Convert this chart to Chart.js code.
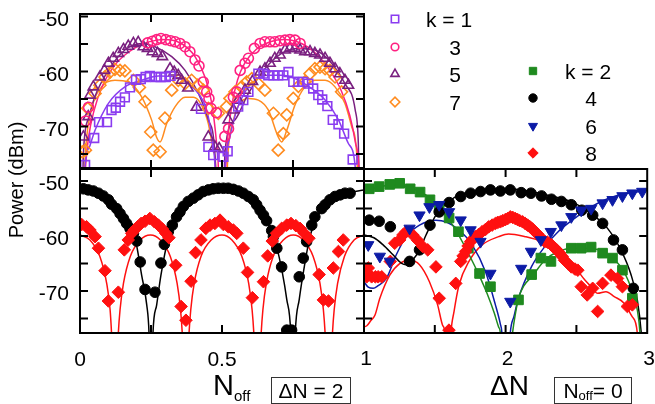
<!DOCTYPE html>
<html>
<head>
<meta charset="utf-8">
<title>Power vs Noff and ΔN</title>
<script src="https://cdn.jsdelivr.net/npm/chart.js"></script>
<style>
  body { margin: 0; background: #fff; }
  #fig { position: relative; width: 655px; height: 404px; overflow: hidden; background: #fff;
         font-family: "Liberation Sans", Arial, Helvetica, sans-serif; color: #000; }
  #fig canvas { position: absolute; left: 0; top: 0; }
  .lbl { position: absolute; line-height: 1; white-space: nowrap; }
  .box { position: absolute; border: 1px solid #333; box-sizing: border-box; display: flex;
         align-items: center; justify-content: center; line-height: 1; white-space: nowrap; }
  .sub { position: relative; }
</style>
</head>
<body>
<div id="fig">
  <canvas id="cTL" width="655" height="404"></canvas>
  <canvas id="cBL" width="655" height="404"></canvas>
  <canvas id="cBR" width="655" height="404"></canvas>
</div>
<script>
// ---- tick labels
const yTickLabels = [-70, -60, -50];
const yMinorTicks = [-75, -70, -65, -60, -55, -50];
const xTicksNoff = [0.25, 0.5, 0.75];
const xTicksDN = [1.5, 2, 2.5];
const xTickLabelsL = [0, 0.5];
const xTickLabelsR = [1, 2, 3];
const legendLabelsA = ['k = 1', '3', '5', '7'];
const legendLabelsB = ['k = 2', '4', '6', '8'];

// ---- top left panel (odd k, vs Noff), measured points
const tlK1X = [0.018,0.05,0.067,0.095,0.111,0.126,0.141,0.158,0.176,0.197,0.214,0.231,0.246,0.266,0.284,0.302,0.319,0.426,0.452,0.469,0.505,0.52,0.557,0.575,0.593,0.628,0.646,0.663,0.681,0.698,0.716,0.734,0.751,0.769,0.786,0.804,0.821,0.839,0.853,0.871,0.89,0.91,0.93,0.96];
const tlK1Y = [-77.0,-72.1,-69.2,-69.2,-67.0,-66.6,-65.5,-64.7,-62.9,-61.5,-61.4,-61.0,-60.8,-61.0,-61.0,-61.0,-60.8,-66.8,-73.7,-75.2,-75.5,-74.5,-66.4,-65.2,-63.7,-60.4,-60.4,-60.7,-60.7,-60.7,-60.7,-60.1,-61.9,-61.9,-61.9,-62.2,-63.1,-64.3,-65.1,-66.3,-68.8,-69.6,-71.3,-76.0];
const tlK3X = [0.02,0.03,0.238,0.255,0.27,0.285,0.302,0.319,0.335,0.352,0.37,0.387,0.405,0.419,0.434,0.446,0.454,0.461,0.48,0.51,0.523,0.54,0.552,0.564,0.581,0.593,0.614,0.634,0.651,0.669,0.686,0.704,0.722,0.739,0.757,0.775];
const tlK3Y = [-69.0,-66.5,-54.8,-54.5,-54.2,-54.0,-54.2,-54.4,-54.6,-54.9,-55.5,-56.4,-57.9,-59.0,-61.9,-63.7,-64.9,-66.7,-67.5,-71.8,-70.4,-64.7,-63.7,-59.8,-58.5,-57.6,-55.8,-54.9,-54.6,-54.6,-54.6,-54.4,-54.3,-54.2,-54.3,-54.9];
const tlK5X = [0.012,0.029,0.035,0.047,0.07,0.086,0.1,0.117,0.135,0.153,0.17,0.188,0.205,0.223,0.238,0.255,0.273,0.29,0.317,0.332,0.346,0.358,0.38,0.41,0.452,0.475,0.49,0.522,0.54,0.557,0.581,0.607,0.634,0.651,0.669,0.686,0.704,0.722,0.739,0.757,0.775,0.792,0.81,0.827,0.845,0.863,0.88,0.898,0.915,0.933,0.945];
const tlK5Y = [-71.9,-68.2,-64.3,-62.8,-61.0,-59.8,-58.5,-57.6,-56.7,-56.0,-55.4,-54.9,-54.7,-55.5,-55.8,-56.4,-56.7,-57.3,-59.5,-60.1,-60.7,-61.6,-63.0,-66.5,-71.9,-73.7,-74.0,-68.8,-67.0,-65.2,-63.4,-61.8,-60.1,-59.5,-58.5,-57.6,-57.0,-56.1,-55.8,-55.8,-56.1,-56.4,-56.4,-56.7,-57.0,-57.6,-58.5,-59.5,-60.4,-61.6,-62.5];
const tlK7X = [0.008,0.019,0.027,0.053,0.07,0.088,0.106,0.123,0.141,0.158,0.188,0.209,0.229,0.249,0.258,0.282,0.299,0.323,0.346,0.37,0.393,0.415,0.434,0.452,0.487,0.516,0.528,0.546,0.569,0.587,0.605,0.628,0.651,0.681,0.698,0.716,0.728,0.751,0.769,0.792,0.81,0.827,0.845,0.863,0.88,0.898,0.921];
const tlK7Y = [-74.6,-74.3,-66.7,-64.0,-62.5,-61.0,-60.1,-59.6,-59.8,-59.9,-61.6,-62.9,-65.5,-71.0,-74.3,-74.6,-68.5,-63.4,-61.6,-62.2,-61.6,-62.5,-63.4,-66.7,-67.6,-66.4,-64.9,-63.7,-62.8,-61.9,-61.3,-62.2,-63.4,-67.6,-74.3,-71.3,-67.9,-64.9,-62.7,-61.9,-60.4,-59.5,-59.2,-59.5,-59.8,-61.0,-63.7];

// top left fits (null = break between lobes)
const tlK1LineX = [0.008,0.02,0.035,0.053,0.1,0.158,0.217,0.276,0.335,0.381,0.417,0.446,0.464,0.475,0.48,0.5,0.505,0.511,0.528,0.552,0.581,0.616,0.663,0.71,0.757,0.816,0.863,0.91,0.945,0.969,0.975];
const tlK1LineY = [-85,-76,-73.5,-70.7,-65.8,-62.8,-61.6,-60.8,-61.0,-62.2,-64.0,-67.0,-71.9,-77.0,-85,null,-85,-77.3,-71.9,-67.0,-63.7,-61.6,-60.7,-60.7,-61.3,-63.1,-65.2,-68.8,-73.1,-77.3,-85];
const tlK3LineX = [0.012,0.02,0.03,0.05,0.08,0.12,0.17,0.22,0.27,0.3,0.34,0.38,0.405,0.44,0.464,0.481,0.487,0.49,0.5,0.508,0.513,0.52,0.535,0.555,0.58,0.62,0.67,0.72,0.76,0.8,0.84,0.88,0.92,0.95,0.97,0.982,0.986];
const tlK3LineY = [-85,-77,-72,-67,-62.5,-59,-56.5,-55,-54.3,-54.2,-54.5,-55.8,-57.3,-61,-65.8,-73.1,-77.3,-85,null,-85,-77.6,-72,-66,-61.5,-58.5,-56,-54.6,-54.2,-54.5,-55.5,-57.2,-59.8,-63.5,-68,-73,-77.6,-85];
const tlK5LineX = [0.008,0.012,0.03,0.053,0.1,0.158,0.217,0.264,0.323,0.37,0.417,0.452,0.475,0.482,0.5,0.505,0.511,0.546,0.593,0.651,0.71,0.769,0.827,0.886,0.933,0.969,0.98,0.985];
const tlK5LineY = [-85,-74.9,-68.5,-64.5,-59.8,-56.1,-54.9,-55.5,-57.3,-59.8,-64.0,-68.8,-74.9,-85,null,-85,-74.3,-68.8,-64.0,-59.5,-56.7,-55.8,-56.1,-58.5,-62.2,-67.0,-73.0,-85];
const tlK7LineX = [0.01,0.02,0.04,0.076,0.123,0.17,0.217,0.252,0.27,0.282,0.305,0.335,0.37,0.399,0.428,0.452,0.469,0.478,0.482,0.5,0.515,0.52,0.54,0.56,0.593,0.628,0.663,0.698,0.71,0.728,0.757,0.792,0.827,0.863,0.898,0.933,0.957,0.975,0.98];
const tlK7LineY = [-85,-74,-67,-62.8,-61.6,-61.9,-64.6,-68.8,-72,-72.8,-69.5,-66.4,-64.7,-64.7,-66.1,-69.5,-74.3,-77.3,-85,null,-85,-76,-69,-66,-64.9,-65.2,-67.0,-71.9,-72.8,-70.7,-66.1,-62.8,-61.6,-61.6,-62.8,-65.8,-70.1,-75.5,-85];

// ---- bottom left panel (k = 4, 8 vs Noff)
const blK4X = [0.012,0.029,0.047,0.065,0.082,0.1,0.111,0.129,0.141,0.153,0.164,0.176,0.188,0.2,0.212,0.229,0.264,0.285,0.297,0.311,0.325,0.34,0.352,0.364,0.381,0.399,0.416,0.434,0.452,0.469,0.487,0.505,0.522,0.54,0.558,0.575,0.593,0.61,0.622,0.634,0.646,0.657,0.675,0.681,0.693,0.71,0.728,0.745,0.772,0.786,0.798,0.816,0.827,0.851,0.863,0.88,0.898,0.916,0.933,0.951];
const blK4Y = [-51.4,-51.6,-51.8,-52.2,-52.7,-53.4,-54.2,-55.0,-55.9,-56.8,-57.7,-58.6,-59.5,-60.9,-64.7,-69.7,-70.2,-64.9,-61.5,-59.2,-58.0,-56.5,-55.6,-54.6,-53.7,-53.1,-52.5,-51.9,-51.6,-51.4,-51.3,-51.3,-51.3,-51.5,-51.8,-52.2,-52.8,-53.4,-54.3,-55.3,-56.2,-57.2,-59.0,-60.1,-62.2,-65.6,-77.1,-77.1,-67.4,-64.0,-61.0,-58.0,-56.5,-55.0,-54.3,-53.4,-52.8,-52.5,-52.2,-52.2];
const blK8X = [0.006,0.023,0.035,0.053,0.065,0.088,0.1,0.135,0.156,0.17,0.182,0.191,0.203,0.215,0.229,0.246,0.262,0.276,0.29,0.302,0.313,0.337,0.356,0.373,0.391,0.407,0.426,0.443,0.458,0.475,0.493,0.505,0.522,0.54,0.552,0.575,0.59,0.607,0.646,0.661,0.677,0.692,0.71,0.728,0.743,0.76,0.775,0.79,0.806,0.842,0.857,0.875,0.892,0.91,0.927];
const blK8Y = [-57.9,-58.3,-58.9,-60.1,-62.2,-66.3,-71.8,-70.2,-62.5,-60.7,-59.5,-58.9,-58.3,-57.7,-57.3,-56.8,-57.4,-58.0,-58.7,-59.5,-60.3,-65.3,-72.8,-75.3,-68.2,-63.0,-60.7,-58.6,-58.0,-57.7,-57.1,-57.9,-58.3,-58.9,-59.5,-62.2,-66.6,-71.2,-68.3,-63.6,-60.9,-59.5,-58.6,-58.0,-57.7,-58.1,-58.6,-59.5,-60.4,-67.0,-71.6,-71.8,-65.8,-62.8,-60.7];
const blK4LineX = [0,0.05,0.1,0.15,0.194,0.217,0.235,0.243,0.25,0.257,0.27,0.285,0.311,0.335,0.381,0.452,0.5,0.55,0.62,0.665,0.69,0.712,0.728,0.742,0.75,0.758,0.772,0.79,0.81,0.835,0.88,0.95,1.0];
const blK4LineY = [-51.3,-51.7,-53.2,-56.5,-60.4,-67.1,-72.5,-77.6,-92,-77.6,-72.5,-67.1,-60.4,-57.4,-53.7,-51.6,-51.1,-51.5,-54.3,-58.0,-61.5,-66.5,-71.5,-77.6,-92,-77.6,-71.5,-65.5,-60.0,-56.5,-53.8,-52.1,-51.6];
const blK8LineX = [0,0.035,0.07,0.094,0.106,0.111,0.123,0.135,0.141,0.153,0.177,0.212,0.248,0.283,0.318,0.342,0.354,0.36,0.372,0.384,0.39,0.402,0.426,0.462,0.5,0.535,0.57,0.594,0.606,0.612,0.625,0.638,0.644,0.656,0.68,0.716,0.751,0.786,0.821,0.845,0.857,0.863,0.876,0.889,0.895,0.907,0.931,0.965,1.0];
const blK8LineY = [-59.8,-60.7,-63.7,-68.6,-73.4,-77.6,-92,-77.6,-73.4,-68.6,-63.7,-60.7,-59.8,-60.7,-63.7,-68.6,-73.4,-77.6,-92,-77.6,-73.4,-68.6,-63.7,-60.7,-59.8,-60.7,-63.7,-68.6,-73.4,-77.6,-92,-77.6,-73.4,-68.6,-63.7,-60.7,-59.8,-60.7,-63.7,-68.6,-73.4,-77.6,-92,-77.6,-73.4,-68.6,-63.7,-60.7,-59.8];

// ---- bottom right panel (even k vs ΔN)
const brK2X = [1.037,1.107,1.182,1.252,1.326,1.396,1.466,1.531,1.601,1.667,1.737,1.816,1.893,2.091,2.184,2.249,2.32,2.464,2.534,2.604,2.685,2.755,2.825,2.895];
const brK2Y = [-51.4,-51.0,-50.6,-50.4,-51.4,-52.0,-53.4,-54.7,-56.7,-59.2,-62.2,-66.8,-69.2,-71.6,-67.0,-64.0,-64.6,-62.2,-62.2,-62.0,-63.1,-64.0,-66.2,-71.3];
const brK4X = [1.037,1.107,1.186,1.322,1.392,1.466,1.531,1.601,1.683,1.753,1.823,1.893,1.963,2.033,2.11,2.179,2.254,2.324,2.394,2.464,2.538,2.615,2.685,2.762,2.825,2.902];
const brK4Y = [-57.1,-57.3,-58.3,-64.6,-62.5,-58.0,-55.6,-53.9,-52.8,-52.2,-51.9,-51.6,-51.8,-51.6,-52.1,-52.2,-52.7,-53.3,-53.7,-54.3,-55.3,-56.2,-57.7,-60.7,-62.5,-69.5];
const brK6X = [1.03,1.112,1.182,1.322,1.392,1.462,1.531,1.601,1.683,1.753,1.823,1.893,2.033,2.11,2.179,2.249,2.319,2.394,2.464,2.534,2.604,2.685,2.755,2.825,2.895,2.965];
const brK6Y = [-61.6,-63.7,-64.6,-58.6,-56.2,-54.7,-54.3,-55.6,-57.1,-58.9,-61.0,-66.8,-71.9,-65.9,-62.8,-60.7,-59.2,-58.0,-56.5,-55.3,-55.0,-54.0,-53.4,-52.7,-52.2,-51.9];
const brK8X = [1.019,1.03,1.054,1.08,1.1,1.125,1.186,1.217,1.252,1.275,1.298,1.345,1.38,1.415,1.45,1.508,1.531,1.6,1.648,1.683,1.7,1.718,1.735,1.753,1.77,1.788,1.81,1.834,1.858,1.881,1.905,1.928,1.945,1.963,1.98,1.998,2.015,2.033,2.05,2.068,2.085,2.1,2.12,2.138,2.155,2.172,2.19,2.207,2.225,2.242,2.26,2.277,2.295,2.312,2.33,2.347,2.365,2.382,2.4,2.417,2.44,2.464,2.49,2.51,2.534,2.576,2.615,2.65,2.685,2.744,2.79,2.825,2.86,2.895];
const brK8Y = [-67.4,-65.8,-67.4,-67.4,-67.4,-67.4,-64.6,-61.3,-60.7,-59.8,-59.2,-59.8,-60.8,-61.9,-62.5,-65.6,-71.3,-77.1,-68.6,-64.6,-63.6,-62.8,-61.8,-61.0,-60.5,-60.1,-59.7,-59.2,-58.8,-58.3,-58.0,-57.7,-57.5,-57.4,-57.2,-57.0,-56.8,-56.5,-56.6,-56.8,-57.0,-57.2,-57.4,-57.7,-58.0,-58.3,-58.7,-59.2,-59.6,-60.1,-60.6,-61.0,-61.1,-61.3,-61.8,-62.2,-62.6,-63.1,-63.7,-64.4,-65.0,-65.6,-66.0,-66.2,-69.2,-70.7,-69.5,-73.7,-68.6,-67.1,-67.7,-69.2,-72.8,-72.5];
const brK2LineX = [1.0,1.05,1.1,1.2,1.3,1.4,1.485,1.55,1.6,1.65,1.7,1.76,1.82,1.87,1.92,1.95,1.963,1.995,2.049,2.07,2.091,2.13,2.184,2.277,2.371,2.487,2.604,2.72,2.814,2.883,2.93,2.949,2.975];
const brK2LineY = [-52.2,-51.5,-51.1,-50.7,-51.0,-52.0,-53.4,-55.3,-57.0,-59.0,-61.3,-64.3,-67.5,-70.5,-74.0,-76.5,-77.6,-92,-77.6,-74.0,-71.3,-69.0,-67.4,-64.4,-62.8,-62.2,-62.2,-63.4,-65.6,-69.2,-73.4,-77.6,-92];
const brK4LineX = [1.0,1.07,1.135,1.205,1.263,1.298,1.345,1.392,1.438,1.508,1.601,1.671,1.788,1.904,2.021,2.138,2.254,2.371,2.487,2.604,2.72,2.814,2.883,2.93,2.958,2.99];
const brK4LineY = [-59.8,-60.3,-61.6,-63.4,-64.9,-65.2,-64.3,-62.5,-59.8,-56.2,-53.7,-52.5,-51.8,-51.4,-51.4,-51.7,-52.3,-53.0,-54.0,-55.9,-58.6,-62.5,-66.8,-71.6,-77.6,-92];
const brK6LineX = [1.0,1.03,1.065,1.1,1.158,1.228,1.298,1.392,1.508,1.578,1.671,1.764,1.858,1.928,1.963,1.974,2.0,2.033,2.06,2.091,2.184,2.277,2.371,2.487,2.604,2.72,2.837,2.977,3.0];
const brK6LineY = [-68.3,-69.3,-69.5,-69.0,-67.7,-63.4,-60.1,-58.0,-57.1,-57.4,-58.9,-61.6,-66.5,-72.5,-76.0,-77.6,-92,-77.6,-74.5,-71.3,-65.5,-61.9,-59.2,-56.8,-54.7,-53.2,-52.3,-51.8,-51.7];
const brK8LineX = [1.0,1.02,1.05,1.077,1.112,1.182,1.252,1.322,1.392,1.462,1.52,1.555,1.573,1.59,1.613,1.636,1.671,1.741,1.834,1.951,2.021,2.138,2.254,2.371,2.487,2.56,2.604,2.65,2.709,2.767,2.837,2.895,2.93,2.95];
const brK8LineY = [-76.5,-76.3,-75.3,-74.4,-71.3,-67.1,-65.0,-64.4,-65.2,-68.3,-72.5,-76.2,-78.0,-92,-78.0,-73.7,-68.9,-64.6,-61.6,-60.1,-59.6,-60.1,-61.0,-62.8,-65.6,-68.0,-69.2,-70.4,-70.1,-71.0,-72.2,-74.7,-77.6,-92];

// colours
const colK1 = '#8a3cf0', colK3 = '#ff2080', colK5 = '#7a2080', colK7 = '#ff8c20';
const colK2 = '#1f8a1f', colK4 = '#000000', colK6 = '#0c1ba6', colK8 = '#ff1010';

function pts(xs, ys) {
  return xs.map(function (x, i) { return { x: x, y: ys[i] }; });
}

function markers(xs, ys, color, style, r, filled, rot) {
  return {
    data: pts(xs, ys),
    showLine: false,
    pointStyle: style,
    pointRadius: r,
    pointRotation: rot || 0,
    pointBorderWidth: filled ? 1 : 1.6,
    pointBorderColor: color,
    pointBackgroundColor: filled ? color : 'rgba(0,0,0,0)'
  };
}

function fit(xs, ys, color) {
  return {
    data: pts(xs, ys),
    showLine: true,
    borderColor: color,
    borderWidth: 1.5,
    pointRadius: 0,
    cubicInterpolationMode: 'monotone',
    spanGaps: false,
    fill: false
  };
}

// border + inward ticks on all four sides
const framePlugin = {
  id: 'frame',
  afterDatasetsDraw(chart, args, opts) {
    const ctx = chart.ctx, a = chart.chartArea;
    const x = chart.scales.x, y = chart.scales.y;
    ctx.save();
    ctx.strokeStyle = '#000';
    ctx.lineWidth = 2;
    ctx.strokeRect(a.left, a.top, a.right - a.left, a.bottom - a.top);
    ctx.beginPath();
    opts.xTicks.forEach(function (v) {
      const px = x.getPixelForValue(v);
      ctx.moveTo(px, a.top); ctx.lineTo(px, a.top + 8);
      ctx.moveTo(px, a.bottom); ctx.lineTo(px, a.bottom - 8);
    });
    opts.yTicks.forEach(function (v) {
      const py = y.getPixelForValue(v);
      ctx.moveTo(a.left, py); ctx.lineTo(a.left + 8, py);
      ctx.moveTo(a.right, py); ctx.lineTo(a.right - 8, py);
    });
    ctx.stroke();
    ctx.restore();
  }
};

// legend symbols (text is html below)
const legendPlugin = {
  id: 'legendMarks',
  afterDraw(chart, args, opts) {
    const ctx = chart.ctx;
    opts.items.forEach(function (it) {
      ctx.save();
      ctx.strokeStyle = it.color;
      ctx.fillStyle = it.filled ? it.color : 'rgba(0,0,0,0)';
      ctx.lineWidth = it.filled ? 1 : 1.6;
      Chart.helpers.drawPoint(ctx, { pointStyle: it.style, radius: it.r, rotation: it.rot || 0, borderWidth: ctx.lineWidth }, it.x, it.y);
      ctx.restore();
    });
  }
};

function makePanel(id, pad, xr, yr, datasets, xTicks, extra) {
  const plugins = [framePlugin];
  const pluginOpts = {
    legend: { display: false },
    tooltip: { enabled: false },
    frame: { xTicks: xTicks, yTicks: yMinorTicks }
  };
  if (extra) { plugins.push(legendPlugin); pluginOpts.legendMarks = extra; }
  return new Chart(document.getElementById(id), {
    type: 'scatter',
    data: { datasets: datasets },
    options: {
      responsive: false,
      animation: false,
      devicePixelRatio: 1,
      events: [],
      layout: { padding: pad },
      plugins: pluginOpts,
      scales: {
        x: { type: 'linear', display: false, min: xr[0], max: xr[1] },
        y: { type: 'linear', display: false, min: yr[0], max: yr[1] }
      }
    },
    plugins: plugins
  });
}

const legendItems = [
  { x: 395, y: 19, style: 'rect', r: 5.2, color: colK1, filled: false },
  { x: 395, y: 47, style: 'circle', r: 3.8, color: colK3, filled: false },
  { x: 395, y: 74, style: 'triangle', r: 4.8, color: colK5, filled: false },
  { x: 395, y: 102, style: 'rectRot', r: 4.8, color: colK7, filled: false },
  { x: 533, y: 71, style: 'rect', r: 5.2, color: colK2, filled: true },
  { x: 533, y: 98, style: 'circle', r: 4.2, color: colK4, filled: true },
  { x: 533, y: 126, style: 'triangle', r: 5.2, color: colK6, filled: true, rot: 180 },
  { x: 533, y: 153, style: 'rectRot', r: 5.2, color: colK8, filled: true }
];

const chartTL = makePanel('cTL', { left: 80, top: 14, right: 291, bottom: 236 }, [0, 1], [-77.55, -49.55], [
  markers(tlK3X, tlK3Y, colK3, 'circle', 5, false),
  markers(tlK1X, tlK1Y, colK1, 'rect', 6.2, false),
  markers(tlK5X, tlK5Y, colK5, 'triangle', 6, false),
  markers(tlK7X, tlK7Y, colK7, 'rectRot', 6, false),
  fit(tlK1LineX, tlK1LineY, colK1),
  fit(tlK3LineX, tlK3LineY, colK3),
  fit(tlK5LineX, tlK5LineY, colK5),
  fit(tlK7LineX, tlK7LineY, colK7)
], xTicksNoff, { items: legendItems });

const chartBL = makePanel('cBL', { left: 80, top: 169, right: 291, bottom: 71 }, [0, 1], [-77.62, -47.8], [
  markers(blK8X, blK8Y, colK8, 'rectRot', 6.3, true),
  markers(blK4X, blK4Y, colK4, 'circle', 5.3, true),
  fit(blK4LineX, blK4LineY, colK4),
  fit(blK8LineX, blK8LineY, colK8)
], xTicksNoff);

const chartBR = makePanel('cBR', { left: 364, top: 169, right: 5, bottom: 71 }, [1, 3], [-77.62, -47.8], [
  markers(brK6X, brK6Y, colK6, 'triangle', 6.5, true, 180),
  markers(brK8X, brK8Y, colK8, 'rectRot', 6.3, true),
  markers(brK4X, brK4Y, colK4, 'circle', 5.3, true),
  markers(brK2X, brK2Y, colK2, 'rect', 6.8, true),
  fit(brK2LineX, brK2LineY, colK2),
  fit(brK4LineX, brK4LineY, colK4),
  fit(brK6LineX, brK6LineY, colK6),
  fit(brK8LineX, brK8LineY, colK8)
], xTicksDN);

// ---- text
const fig = document.getElementById('fig');
function addText(html, x, y, size, anchor, extraTransform) {
  const d = document.createElement('div');
  d.className = 'lbl';
  d.innerHTML = html;
  d.style.left = x + 'px';
  d.style.top = y + 'px';
  d.style.fontSize = size + 'px';
  const tx = anchor === 'r' ? '-100%' : (anchor === 'l' ? '0' : '-50%');
  d.style.transform = 'translate(' + tx + ',-50%)' + (extraTransform || '');
  fig.appendChild(d);
  return d;
}

yTickLabels.forEach(function (v) {
  addText(String(v), 69, chartTL.scales.y.getPixelForValue(v) + 1.5, 21, 'r');
  addText(String(v), 69, chartBL.scales.y.getPixelForValue(v) + 1, 21, 'r');
});
xTickLabelsL.forEach(function (v) {
  addText(String(v), chartBL.scales.x.getPixelForValue(v), 358, 21, 'c');
});
xTickLabelsR.forEach(function (v) {
  addText(String(v), chartBR.scales.x.getPixelForValue(v) + 2, 357, 21, 'c');
});

addText('Power (dBm)', 16, 180, 20, 'c', ' rotate(-90deg)');

legendLabelsA.forEach(function (t, i) {
  if (i === 0) addText(t, 426, legendItems[i].y, 21, 'l');
  else addText(t, 455, legendItems[i].y, 21, 'c');
});
legendLabelsB.forEach(function (t, i) {
  if (i === 0) addText(t, 565, legendItems[i + 4].y, 21, 'l');
  else addText(t, 591, legendItems[i + 4].y, 21, 'c');
});

// axis titles
const tNoff = document.createElement('div');
tNoff.className = 'lbl';
tNoff.style.cssText = 'left:213px;top:371px;font-size:29px;';
tNoff.innerHTML = 'N<span class="sub" style="font-size:15px;top:6px;">off</span>';
fig.appendChild(tNoff);

const tDN = document.createElement('div');
tDN.className = 'lbl';
tDN.style.cssText = 'left:490px;top:372px;font-size:28px;';
tDN.textContent = 'ΔN';
fig.appendChild(tDN);

const box1 = document.createElement('div');
box1.className = 'box';
box1.style.cssText = 'left:271px;top:377px;width:80px;height:27px;font-size:21px;';
box1.textContent = 'ΔN = 2';
fig.appendChild(box1);

const box2 = document.createElement('div');
box2.className = 'box';
box2.style.cssText = 'left:554px;top:377px;width:78px;height:27px;font-size:21px;';
box2.innerHTML = 'N<span class="sub" style="font-size:13px;top:5px;">off</span>= 0';
fig.appendChild(box2);
</script>
</body>
</html>
